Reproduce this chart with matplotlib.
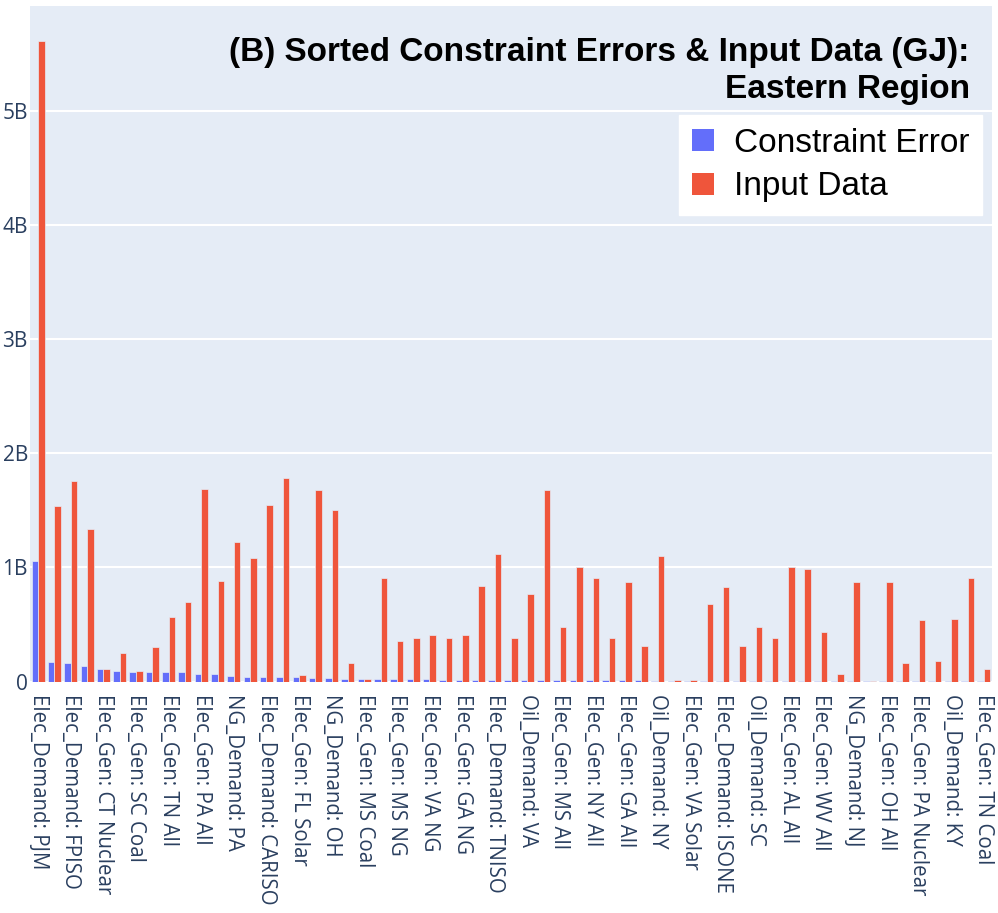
import matplotlib
matplotlib.use("Agg")
import matplotlib.pyplot as plt
import numpy as np
from matplotlib.patches import Patch
from matplotlib.ticker import FuncFormatter

# values in billions of GJ (sorted by constraint error)
constraint_error = [
    1.06, 0.174, 0.162, 0.139, 0.107, 0.095, 0.083, 0.080, 0.080, 0.079,
    0.066, 0.064, 0.048, 0.040, 0.039, 0.039, 0.038, 0.033, 0.032, 0.026,
    0.025, 0.025, 0.024, 0.024, 0.020, 0.017, 0.013, 0.012, 0.012, 0.012,
    0.011, 0.011, 0.011, 0.010, 0.010, 0.010, 0.009, 0.009, 0.008, 0.008,
    0.008, 0.007, 0.007, 0.007, 0.007, 0.006, 0.006, 0.006, 0.006, 0.006,
    0.005, 0.005, 0.005, 0.005, 0.005, 0.004, 0.004, 0.004, 0.004,
]
input_data = [
    5.62, 1.54, 1.76, 1.335, 0.110, 0.253, 0.095, 0.300, 0.563, 0.700,
    1.69, 0.879, 1.22, 1.08, 1.545, 1.785, 0.054, 1.68, 1.50, 0.162,
    0.025, 0.910, 0.358, 0.385, 0.410, 0.385, 0.410, 0.838, 1.12, 0.385,
    0.770, 1.68, 0.478, 1.005, 0.905, 0.385, 0.873, 0.314, 1.10, 0.010,
    0.010, 0.680, 0.830, 0.314, 0.478, 0.385, 1.005, 0.985, 0.437, 0.070,
    0.875, 0.006, 0.875, 0.165, 0.540, 0.183, 0.548, 0.905, 0.107,
]
# only every other category is labelled on the axis
tick_labels = [
    "Elec_Demand: PJM", "Elec_Demand: FPISO", "Elec_Gen: CT Nuclear",
    "Elec_Gen: SC Coal", "Elec_Gen: TN All", "Elec_Gen: PA All",
    "NG_Demand: PA", "Elec_Demand: CARISO", "Elec_Gen: FL Solar",
    "NG_Demand: OH", "Elec_Gen: MS Coal", "Elec_Gen: MS NG",
    "Elec_Gen: VA NG", "Elec_Gen: GA NG", "Elec_Demand: TNISO",
    "Oil_Demand: VA", "Elec_Gen: MS All", "Elec_Gen: NY All",
    "Elec_Gen: GA All", "Oil_Demand: NY", "Elec_Gen: VA Solar",
    "Elec_Demand: ISONE", "Oil_Demand: SC", "Elec_Gen: AL All",
    "Elec_Gen: WV All", "NG_Demand: NJ", "Elec_Gen: OH All",
    "Elec_Gen: PA Nuclear", "Oil_Demand: KY", "Elec_Gen: TN Coal",
]

BLUE = "#636efa"
RED = "#EF553B"
BG = "#E5ECF6"
FONT_COLOR = "#2a3f5f"

err = np.array(constraint_error) * 1e9
inp = np.array(input_data) * 1e9
x = np.arange(len(err))

fig = plt.figure(figsize=(9.98, 9.13), dpi=100)
ax = fig.add_axes([30 / 998, 231.5 / 913, 962 / 998, 675.5 / 913])
ax.set_facecolor(BG)

w = 0.4
ax.bar(x - w / 2, err, width=w, color=BLUE, edgecolor=BG, linewidth=0.5, zorder=3)
ax.bar(x + w / 2, inp, width=w, color=RED, edgecolor=BG, linewidth=0.5, zorder=3)

ax.set_xlim(-0.5, len(x) - 0.5)
ax.set_ylim(0, 5.925e9)
ax.set_yticks(np.arange(0, 6e9, 1e9))
ax.yaxis.set_major_formatter(
    FuncFormatter(lambda v, _: "0" if v == 0 else f"{v / 1e9:.0f}B"))
ax.grid(axis="y", color="white", linewidth=1.5, zorder=0)
ax.set_axisbelow(True)

ax.set_xticks(x[::2])
ax.set_xticklabels(tick_labels, rotation=-90, ha="center", va="top",
                   family="Open Sans", fontsize=14.8, color=FONT_COLOR)
for lab in ax.get_yticklabels():
    lab.set_family("Open Sans")
    lab.set_fontsize(15)
    lab.set_color(FONT_COLOR)
ax.tick_params(axis="x", length=0, pad=9)
ax.tick_params(axis="y", length=0, pad=1.5)
for s in ax.spines.values():
    s.set_visible(False)

title_font = dict(family="Liberation Sans", fontsize=24, fontweight="bold",
                  color="black", ha="right", va="baseline", transform=ax.transAxes)
ax.text(0.977, 0.9186, "(B) Sorted Constraint Errors & Input Data (GJ):", **title_font)
ax.text(0.977, 0.8645, "Eastern Region", **title_font)

handles = [Patch(facecolor=BLUE, label="Constraint Error"),
           Patch(facecolor=RED, label="Input Data")]
leg = ax.legend(handles=handles, loc="upper right", bbox_to_anchor=(0.9896, 0.8386),
                borderaxespad=0, frameon=True, fancybox=False, framealpha=1,
                edgecolor="white", facecolor="white", handlelength=0.65,
                handleheight=0.65, handletextpad=0.6, borderpad=0.38,
                labelspacing=0.38, prop=dict(family="Liberation Sans", size=24))
leg.set_zorder(5)

fig.savefig("out.png", dpi=100, facecolor="white")
